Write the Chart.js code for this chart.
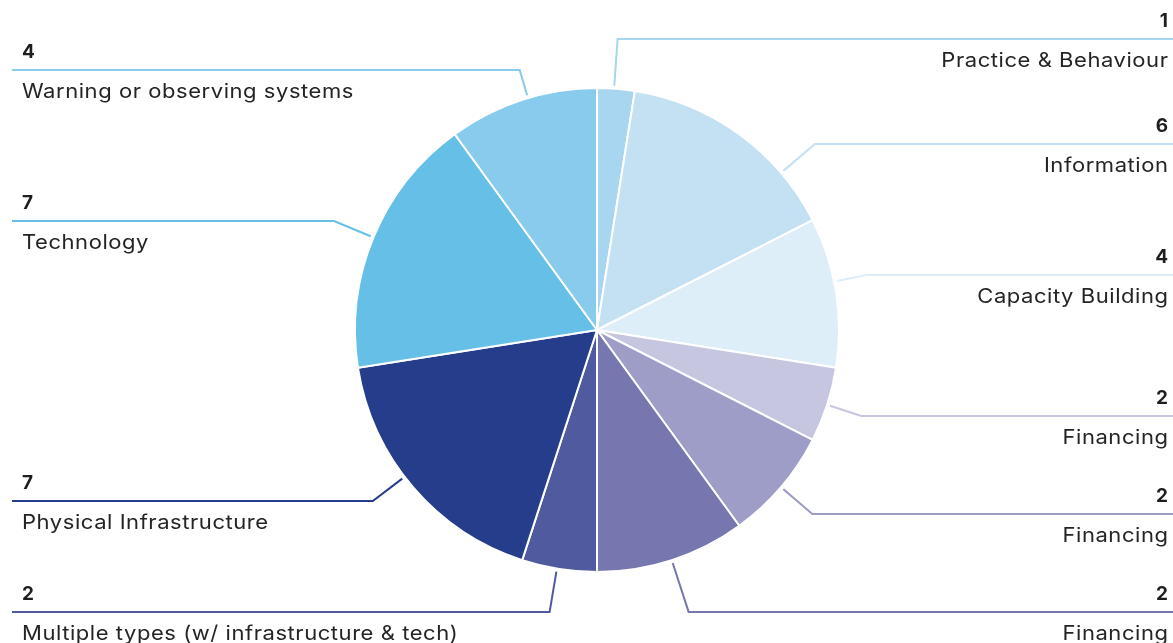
<!DOCTYPE html>
<html>
<head>
<meta charset="utf-8">
<script src="https://cdn.jsdelivr.net/npm/chart.js@4.4.1/dist/chart.umd.min.js"></script>
<style>
  html, body { margin: 0; padding: 0; background: #ffffff; }
  #wrap { width: 1173px; height: 643px; position: relative; }
  canvas { display: block; }
</style>
</head>
<body>
<div id="wrap"><canvas id="c" width="1173" height="643"></canvas></div>
<script>
// ---- data ----
const categories = [
  'Practice & Behaviour',
  'Information',
  'Capacity Building',
  'Financing',
  'Financing',
  'Financing',
  'Multiple types (w/ infrastructure & tech)',
  'Physical Infrastructure',
  'Technology',
  'Warning or observing systems'
];
const sliceValues = [1, 6, 4, 2, 3, 4, 2, 7, 7, 4];
const labelNumbers = ['1', '6', '4', '2', '2', '2', '2', '7', '7', '4'];
const sliceColors = [
  '#a8d5ef', '#c3e1f3', '#deeef8', '#c6c6e1', '#9d9dc8',
  '#7777b0', '#4f5a9f', '#253d8b', '#66bfe7', '#88cbec'
];

// ---- leader-line layout (style, not data) ----
// position of anchor inside each slice (0..1), and horizontal line level in units of radius from centre
const anchorFrac = [0.45, 0.75, 0.43, 0.5, 0.5, 0.5, 0.53, 0.55, 0.5, 0.54];
const lineLevel = [-1.202, -0.769, -0.227, 0.355, 0.760, 1.165, 1.165, 0.707, -0.450, -1.074];

const FONT = 'Inter, "DejaVu Sans", sans-serif';
const TEXT_STRETCH = 1.1;
const TEXT_SPACING = 0.5;

const leaderPlugin = {
  id: 'leaders',
  afterDatasetsDraw(chart) {
    const ctx = chart.ctx;
    const meta = chart.getDatasetMeta(0);
    const W = chart.width;
    const hasLS = 'letterSpacing' in ctx;
    meta.data.forEach((arc, i) => {
      const p = arc.getProps(['x', 'y', 'startAngle', 'endAngle', 'outerRadius'], true);
      const a = p.startAngle + anchorFrac[i] * (p.endAngle - p.startAngle);
      const r0 = p.outerRadius + 3;
      const sx = p.x + Math.cos(a) * r0;
      const sy = p.y + Math.sin(a) * r0;
      const ly = p.y + lineLevel[i] * p.outerRadius;
      let t = (ly - p.y) / Math.sin(a);
      if (!isFinite(t) || t < r0) t = r0 + 10;
      const ex = p.x + Math.cos(a) * t;
      const right = sx >= p.x;
      ctx.save();
      ctx.strokeStyle = sliceColors[i];
      ctx.lineWidth = 2;
      ctx.lineJoin = 'miter';
      ctx.beginPath();
      ctx.moveTo(sx, sy);
      ctx.lineTo(ex, ly);
      ctx.lineTo(right ? W : 12, ly);
      ctx.stroke();

      ctx.textAlign = right ? 'right' : 'left';
      ctx.textBaseline = 'alphabetic';
      const tx = right ? W - 5 : 22;
      if (hasLS) ctx.letterSpacing = '0px';
      ctx.fillStyle = '#1e1e1e';
      ctx.font = 'bold 19px ' + FONT;
      ctx.fillText(labelNumbers[i], tx, ly - 12);

      ctx.font = '20px ' + FONT;
      if (hasLS) ctx.letterSpacing = TEXT_SPACING + 'px';
      ctx.fillStyle = '#242424';
      ctx.save();
      ctx.translate(tx + (right && hasLS ? TEXT_SPACING : 0), ly + 28);
      ctx.scale(TEXT_STRETCH, 1);
      ctx.fillText(categories[i], 0, 0);
      ctx.restore();
      ctx.restore();
    });
  }
};

new Chart(document.getElementById('c'), {
  type: 'pie',
  data: {
    labels: categories,
    datasets: [{
      data: sliceValues,
      backgroundColor: sliceColors,
      borderColor: '#ffffff',
      borderWidth: 2
    }]
  },
  options: {
    responsive: false,
    animation: false,
    layout: { padding: { top: 87, bottom: 70, left: 354, right: 333 } },
    plugins: {
      legend: { display: false },
      tooltip: { enabled: false }
    }
  },
  plugins: [leaderPlugin]
});
</script>
</body>
</html>
